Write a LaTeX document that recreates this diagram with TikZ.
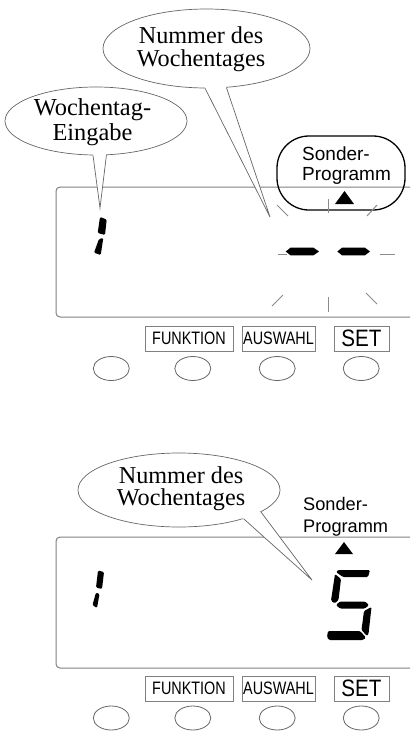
\documentclass[tikz,border=0pt]{standalone}
\usepackage{fontspec}
\setmainfont{Liberation Serif}
\setsansfont{Liberation Sans}
\usetikzlibrary{shapes.geometric,calc}
\begin{document}
\begin{tikzpicture}[x=1pt,y=-1pt,
  bubble/.style={ellipse,draw=black!60,line width=0.7pt,inner sep=0pt,fill=white},
  btext/.style={font=\fontsize{24.2}{24.2}\selectfont,anchor=base,inner sep=0pt},
  stext/.style={font=\sffamily\fontsize{19}{19}\selectfont,anchor=base west,inner sep=0pt},
  stextb/.style={font=\sffamily\fontsize{18.2}{18.2}\selectfont,anchor=base west,inner sep=0pt},
  lcd/.style={draw=black!50,line width=1pt,rounded corners=4pt},
  keylabel/.style={draw=black!50,line width=0.8pt,inner sep=0pt,minimum height=25pt,font=\sffamily\fontsize{18}{18}\selectfont},
  setlabel/.style={keylabel,font=\sffamily\fontsize{23.7}{23.7}\selectfont},
  keybtn/.style={ellipse,draw=black!60,line width=0.8pt,minimum width=36pt,minimum height=24pt,inner sep=0pt},
  seg/.style={fill=black,rounded corners=1.2pt},
  blink/.style={draw=black!45,line width=1pt},
  tail/.style={draw=black!60,line width=0.7pt}
]
\useasboundingbox (0,0) rectangle (410,731);
\clip (0,0) rectangle (410,731);
\fill[white] (0,0) rectangle (410,731);

% ================= top panel =================
\draw[lcd] (56,187) rectangle (430,317);

% Sonder-Programm box
\node[draw=black,line width=1.3pt,rounded corners=32pt,minimum width=128pt,minimum height=74pt,inner sep=0pt] (sbox) at (341,173) {};
\node[stext] (s1a) at (302,160) {Sonder-};
\node[stext] (s1b) at (302,180) {Programm};
\fill (335,204) -- (354,204) -- (344.5,191) -- cycle;

% blink marks
\draw[blink] (277,205) -- (288,216);
\draw[blink] (328,199) -- (328,213);
\draw[blink] (367,216) -- (377,205);
\draw[blink] (278,254) -- (287,254);
\draw[blink] (380,254) -- (395,254);
\draw[blink] (272,306) -- (283,295);
\draw[blink] (328,297) -- (328,312);
\draw[blink] (366,293) -- (377,304);

% dashes
\fill (285.7,251.5) -- (290.5,247.7) -- (313.5,247.7) -- (319,251.5) -- (313.5,255.3) -- (290.5,255.3) -- cycle;
\fill (337.3,251.5) -- (342,247.7) -- (365,247.7) -- (370,251.5) -- (365,255.3) -- (342,255.3) -- cycle;

% digit 1 (top)
\fill[seg] (100,217) -- (106.7,219.5) -- (105,235) -- (97.7,233) -- cycle;
\fill[seg] (99,239) -- (103.3,238) -- (100.7,255) -- (94,252.7) -- cycle;

% bubbles (top)
\node[bubble,minimum width=207pt,minimum height=79pt] (b1) at (206.5,48.5) {};
\coordinate (b1tip) at (270,217);
\coordinate (b1l) at (b1.-92.4);
\coordinate (b1r) at (b1.-63.7);
\fill[white] (b1l) -- (b1tip) -- (b1r) -- ($(b1r)!3pt!(b1.center)$) -- ($(b1l)!3pt!(b1.center)$) -- cycle;
\draw[tail] (b1l) -- (b1tip) -- (b1r);
\node[btext] (t1a) at (201,43.3) {Nummer des};
\node[btext] (t1b) at (201,66) {Wochentages};

\node[bubble,minimum width=182pt,minimum height=68pt] (b2) at (96,121) {};
\coordinate (b2tip) at (100,208);
\coordinate (b2l) at (b2.-95.2);
\coordinate (b2r) at (b2.-73.1);
\fill[white] (b2l) -- (b2tip) -- (b2r) -- ($(b2r)!3pt!(b2.center)$) -- ($(b2l)!3pt!(b2.center)$) -- cycle;
\draw[tail] (b2l) -- (b2tip) -- (b2r);
\node[btext,font=\fontsize{24.4}{24.4}\selectfont] (t2a) at (92.5,115) {Wochentag-};
\node[btext,font=\fontsize{24.4}{24.4}\selectfont] (t2b) at (92.5,140) {Eingabe};

% key labels (top)
\node[keylabel,minimum width=88pt] (kf1) at (189,338.5) {\scalebox{0.8}[1]{FUNKTION}};
\node[keylabel,minimum width=73pt] (ka1) at (278.5,338.5) {\scalebox{0.8}[1]{AUSWAHL}};
\node[setlabel,minimum width=55pt] (ks1) at (361.5,338.5) {\scalebox{0.87}[1]{SET}};

% buttons (top)
\node[keybtn] (o11) at (111.3,368.5) {};
\node[keybtn] (o12) at (192.8,368.5) {};
\node[keybtn] (o13) at (277.2,368.5) {};
\node[keybtn] (o14) at (361.2,368.5) {};

% ================= bottom panel =================
\draw[lcd] (56,537) rectangle (430,668);

\node[stextb] (s2a) at (303,510) {Sonder-};
\node[stextb] (s2b) at (303,532) {Programm};
\fill (335,554) -- (353,554) -- (344,542) -- cycle;

% digit 1 (bottom)
\fill[seg] (98,570.5) -- (104,572) -- (102,589) -- (96,587.5) -- cycle;
\fill[seg] (96,592.5) -- (99.5,594) -- (97,608) -- (92.5,605) -- cycle;

% digit 5
\fill[seg] (336,572) -- (338,570) -- (370,570) -- (368,577) -- (343,577) -- cycle;
\fill[seg] (335,574) -- (341,579) -- (338.5,600) -- (334.5,603.5) -- (331,600.5) -- cycle;
\fill[seg] (336,605) -- (340,601.5) -- (365,601.5) -- (369,605) -- (365,608.5) -- (340,608.5) -- cycle;
\fill[seg] (371.5,607) -- (368.5,634) -- (367,636) -- (361.5,630) -- (364,611) -- cycle;
\fill[seg] (328,631) -- (360,631) -- (366,637.5) -- (363,640) -- (329,640) -- (327,637) -- cycle;

% bubble (bottom)
\node[bubble,minimum width=202pt,minimum height=74pt] (b3) at (179,490) {};
\coordinate (b3tip) at (312,580);
\coordinate (b3l) at (b3.-24.0);
\coordinate (b3r) at (b3.-15.6);
\fill[white] (b3l) -- (b3tip) -- (b3r) -- ($(b3r)!3pt!(b3.center)$) -- ($(b3l)!3pt!(b3.center)$) -- cycle;
\draw[tail] (b3l) -- (b3tip) -- (b3r);
\node[btext] (t3a) at (181,483) {Nummer des};
\node[btext] (t3b) at (181,505) {Wochentages};

% key labels (bottom)
\node[keylabel,minimum width=88pt] (kf2) at (189,688.5) {\scalebox{0.8}[1]{FUNKTION}};
\node[keylabel,minimum width=73pt] (ka2) at (278.5,688.5) {\scalebox{0.8}[1]{AUSWAHL}};
\node[setlabel,minimum width=55pt] (ks2) at (361.5,688.5) {\scalebox{0.87}[1]{SET}};

% buttons (bottom)
\node[keybtn] (o21) at (111.3,718) {};
\node[keybtn] (o22) at (192.8,718) {};
\node[keybtn] (o23) at (277.2,718) {};
\node[keybtn] (o24) at (361.2,718) {};
\end{tikzpicture}
\end{document}
